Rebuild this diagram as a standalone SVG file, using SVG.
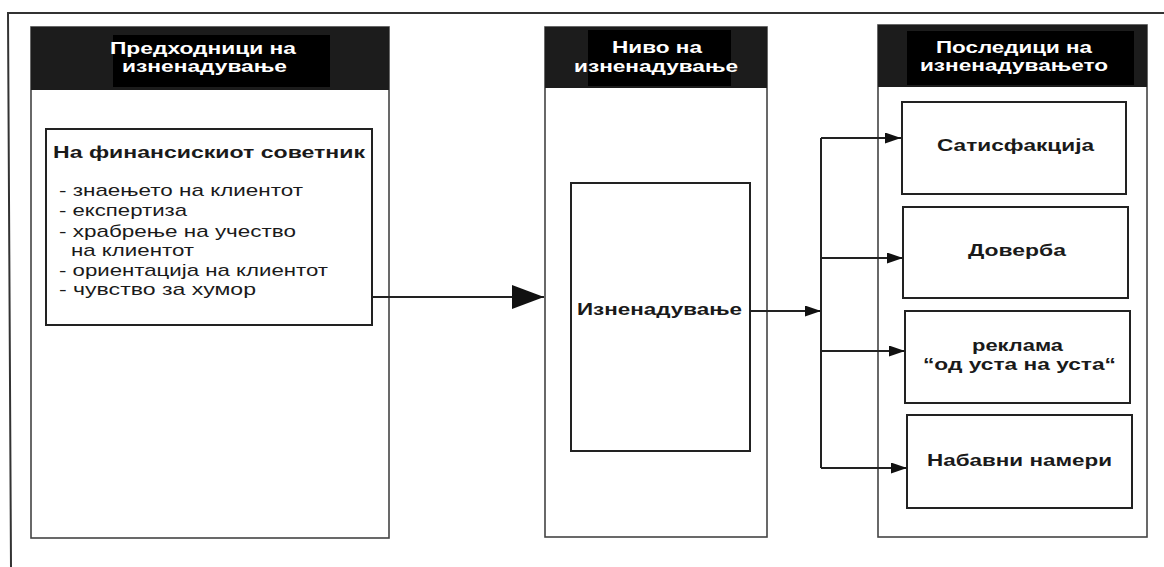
<svg xmlns="http://www.w3.org/2000/svg" width="1164" height="567" viewBox="0 0 1164 567">
<style>
text{font-family:"Liberation Sans",Arial,"DejaVu Sans",sans-serif;fill:#1a1a1a}
.hd{font-weight:bold;font-size:17px;fill:#fff}
.b{font-weight:bold;font-size:16.5px}
.r{font-size:17px}
.col{fill:#fff;stroke:#444;stroke-width:1.6}
.band{fill:#1c1c1c}
.blk{fill:#000}
.box{fill:#fff;stroke:#222;stroke-width:2}
.ln{fill:none;stroke:#222;stroke-width:2}
</style>
<defs>
<marker id="big" markerWidth="32" markerHeight="24" refX="32" refY="12" orient="auto" markerUnits="userSpaceOnUse">
<path d="M0,0 L32,12 L0,24 Z" fill="#111"/>
</marker>
<marker id="sm" markerWidth="16" markerHeight="11" refX="16" refY="5.5" orient="auto" markerUnits="userSpaceOnUse">
<path d="M0,0 L16,5.5 L0,11 Z" fill="#111"/>
</marker>
</defs>
<rect width="1164" height="567" fill="#fff"/>
<polyline points="11,567 8,13 1164,13" fill="none" stroke="#333" stroke-width="2"/>

<g id="col1">
<rect class="col" x="31" y="27" width="358" height="511"/>
<rect class="band" x="31" y="27" width="358" height="63"/>
<rect class="blk" x="113" y="35" width="217" height="52"/>
<text class="hd" x="110" y="54" textLength="186" lengthAdjust="spacingAndGlyphs">Предходници на</text>
<text class="hd" x="122" y="72" textLength="165" lengthAdjust="spacingAndGlyphs">изненадување</text>
</g>
<g id="col2">
<rect class="col" x="545" y="27" width="222" height="510"/>
<rect class="band" x="545" y="27" width="222" height="61"/>
<rect class="blk" x="588" y="30" width="143" height="56"/>
<text class="hd" x="612" y="53" textLength="90" lengthAdjust="spacingAndGlyphs">Ниво на</text>
<text class="hd" x="574" y="72" textLength="164" lengthAdjust="spacingAndGlyphs">изненадување</text>
</g>
<g id="col3">
<rect class="col" x="878" y="25" width="269" height="512"/>
<rect class="band" x="878" y="25" width="269" height="62"/>
<rect class="blk" x="907" y="31" width="227" height="54"/>
<text class="hd" x="936" y="53" textLength="156" lengthAdjust="spacingAndGlyphs">Последици на</text>
<text class="hd" x="920" y="71" textLength="188" lengthAdjust="spacingAndGlyphs">изненадувањето</text>
</g>

<g id="advisor">
<rect class="box" x="46" y="129" width="326" height="196"/>
<text class="b" x="53" y="158" textLength="312" lengthAdjust="spacingAndGlyphs">На финансискиот советник</text>
<text class="r" x="59" y="196" textLength="244" lengthAdjust="spacingAndGlyphs">- знаењето на клиентот</text>
<text class="r" x="59" y="216" textLength="128" lengthAdjust="spacingAndGlyphs">- експертиза</text>
<text class="r" x="59" y="237" textLength="237" lengthAdjust="spacingAndGlyphs">- храбрење на учество</text>
<text class="r" x="71" y="256" textLength="123" lengthAdjust="spacingAndGlyphs">на клиентот</text>
<text class="r" x="59" y="276" textLength="269" lengthAdjust="spacingAndGlyphs">- ориентација на клиентот</text>
<text class="r" x="59" y="295" textLength="197" lengthAdjust="spacingAndGlyphs">- чувство за хумор</text>
</g>

<g id="surprise">
<rect class="box" x="571" y="183" width="179" height="268"/>
<text class="b" x="577" y="315" textLength="165" lengthAdjust="spacingAndGlyphs" font-size="17.5">Изненадување</text>
</g>

<g id="satisfaction">
<rect class="box" x="902" y="102" width="224" height="92"/>
<text class="b" x="937" y="151" textLength="157" lengthAdjust="spacingAndGlyphs">Сатисфакција</text>
</g>
<g id="trust">
<rect class="box" x="903" y="207" width="225" height="91"/>
<text class="b" x="968" y="256" textLength="98" lengthAdjust="spacingAndGlyphs">Доверба</text>
</g>
<g id="wom">
<rect class="box" x="905" y="311" width="225" height="92"/>
<text class="b" x="972" y="351" textLength="91" lengthAdjust="spacingAndGlyphs">реклама</text>
<text class="b" x="923" y="370" textLength="193" lengthAdjust="spacingAndGlyphs">“од уста на уста“</text>
</g>
<g id="purchase">
<rect class="box" x="907" y="415" width="225" height="93"/>
<text class="b" x="927" y="466" textLength="185" lengthAdjust="spacingAndGlyphs">Набавни намери</text>
</g>

<g id="connectors">
<line class="ln" x1="372" y1="297" x2="544" y2="297" marker-end="url(#big)"/>
<line class="ln" x1="750" y1="311" x2="821" y2="311" marker-end="url(#sm)"/>
<line class="ln" x1="821" y1="138" x2="821" y2="468"/>
<line class="ln" x1="821" y1="138" x2="901" y2="138" marker-end="url(#sm)"/>
<line class="ln" x1="821" y1="258" x2="903" y2="258" marker-end="url(#sm)"/>
<line class="ln" x1="821" y1="351" x2="905" y2="351" marker-end="url(#sm)"/>
<line class="ln" x1="821" y1="468" x2="907" y2="468" marker-end="url(#sm)"/>
</g>
</svg>
